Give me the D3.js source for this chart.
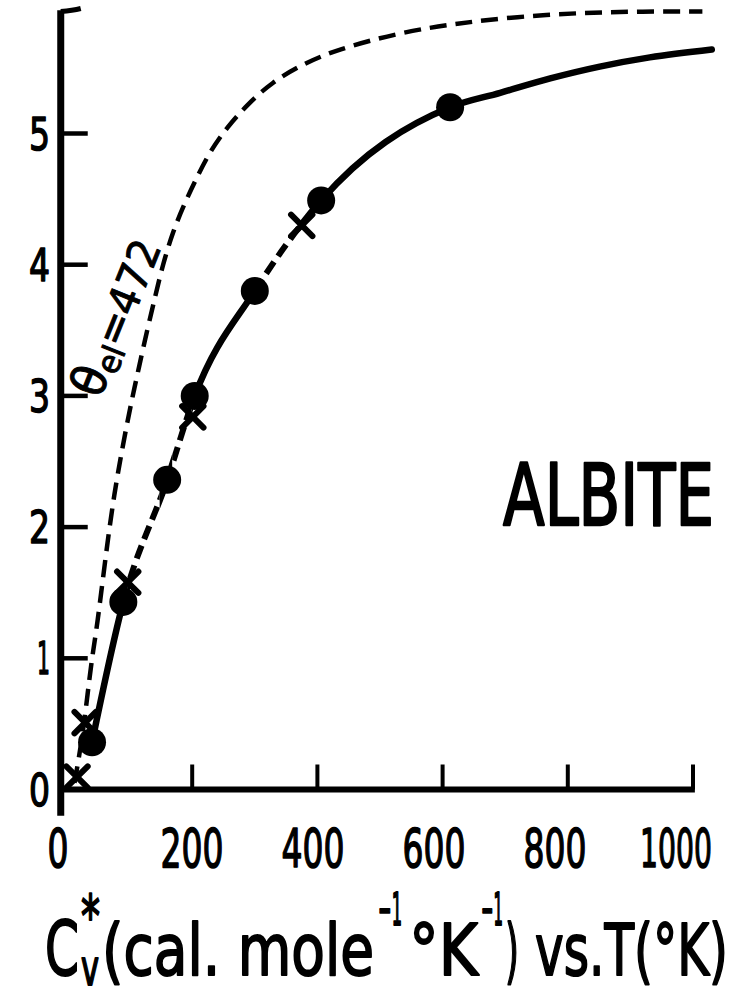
<!DOCTYPE html>
<html><head><meta charset="utf-8">
<script src="https://cdn.jsdelivr.net/npm/d3@7"></script>
<style>
html,body{margin:0;padding:0;background:#fff;}
svg{display:block;}
text{font-family:"DejaVu Sans",sans-serif;fill:#000;stroke:#000;stroke-linejoin:round;}
</style>
</head><body>
<svg id="c" width="746" height="987"></svg>
<script>
// ---- data ----
const circleT  = [40, 90, 160, 204, 300, 406, 612];
const circleCv = [0.36, 1.43, 2.36, 3.00, 3.80, 4.49, 5.20];
const tailT    = [692, 772, 851, 931, 1030];
const tailCv   = [5.31, 5.42, 5.51, 5.58, 5.64];
const crossT   = [16, 29, 97, 201, 375];
const crossCv  = [0.095, 0.51, 1.58, 2.84, 4.30];
const debyeT   = [12, 24, 32, 40, 48, 61, 75, 93, 104, 115, 128, 141, 153, 169, 188, 208, 228, 256, 288, 327, 377, 431, 532, 623, 719, 819, 915, 1015];
const debyeCv  = [0.05, 0.38, 0.69, 1.01, 1.24, 1.75, 2.25, 2.72, 2.98, 3.22, 3.50, 3.76, 4.00, 4.25, 4.47, 4.67, 4.86, 5.05, 5.22, 5.39, 5.53, 5.64, 5.77, 5.84, 5.89, 5.92, 5.93, 5.93];
const dashedRangesT = [[96, 148], [168, 199], [303, 373]];
const xTickValues = [200, 400, 600, 800, 1000];
const xLabelValues = [0, 200, 400, 600, 800, 1000];
const xLabels = ["0", "200", "400", "600", "800", "1000"];
const yTickValues = [1, 2, 3, 4, 5];
const yLabelValues = [0, 1, 2, 3, 4, 5];
const yLabels = ["0", "1", "2", "3", "4", "5"];

// ---- scales ----
const x = d3.scaleLinear().domain([0, 1000]).range([67, 693]);
const y = d3.scaleLinear().domain([0, 6]).range([789.5, 2.3]);
const xLab = d3.scaleLinear().domain([0, 200, 1000]).range([58, 192, 676]);

const svg = d3.select("#c");
const axX = x(-10);

// ---- axes ----
svg.append("line").attr("x1", axX).attr("x2", axX)
  .attr("y1", y(5.94)).attr("y2", y(-0.2))
  .attr("stroke", "#000").attr("stroke-width", 7);
svg.append("line").attr("x1", axX).attr("x2", x(1003))
  .attr("y1", y(0)).attr("y2", y(0))
  .attr("stroke", "#000").attr("stroke-width", 6);
svg.append("path")
  .attr("d", `M${axX},${y(5.93)} Q${axX + 12},${y(5.93) - 1} ${axX + 20},${y(5.93) - 3}`)
  .attr("fill", "none").attr("stroke", "#000").attr("stroke-width", 5);

svg.append("g").selectAll("line").data(yTickValues).join("line")
  .attr("x1", axX).attr("x2", axX + 27)
  .attr("y1", d => y(d)).attr("y2", d => y(d))
  .attr("stroke", "#000").attr("stroke-width", 4.5);
svg.append("g").selectAll("line").data(xTickValues).join("line")
  .attr("x1", d => x(d)).attr("x2", d => x(d))
  .attr("y1", y(0)).attr("y2", y(0) - 25)
  .attr("stroke", "#000").attr("stroke-width", 4);

// tick labels
svg.append("g").selectAll("text").data(yLabelValues).join("text")
  .attr("x", 50).attr("y", d => y(d) + 16)
  .attr("text-anchor", "end")
  .attr("font-size", 45).attr("stroke-width", 1.5)
  .attr("textLength", (d, i) => yLabels[i] === "1" ? 13 : 21)
  .attr("lengthAdjust", "spacingAndGlyphs")
  .text((d, i) => yLabels[i]);

svg.append("g").selectAll("text").data(xLabelValues).join("text")
  .attr("x", d => xLab(d)).attr("y", 867)
  .attr("text-anchor", "middle")
  .attr("font-size", 54).attr("stroke-width", 1.6)
  .attr("textLength", (d, i) => xLabels[i].length * 21 - (xLabels[i][0] === "1" ? 12 : 0))
  .attr("lengthAdjust", "spacingAndGlyphs")
  .text((d, i) => xLabels[i]);

// ---- clip paths for dashed / solid sections of the measured curve ----
const defs = svg.append("defs");
const dashClip = defs.append("clipPath").attr("id", "dashClip");
dashClip.selectAll("rect").data(dashedRangesT).join("rect")
  .attr("x", d => x(d[0])).attr("width", d => x(d[1]) - x(d[0]))
  .attr("y", 0).attr("height", 987);
const solidBounds = [];
let prev = 0;
dashedRangesT.forEach(r => { solidBounds.push([prev, x(r[0])]); prev = x(r[1]); });
solidBounds.push([prev, 746]);
const solidClip = defs.append("clipPath").attr("id", "solidClip");
solidClip.selectAll("rect").data(solidBounds).join("rect")
  .attr("x", d => d[0]).attr("width", d => d[1] - d[0])
  .attr("y", 0).attr("height", 987);

// ---- Debye dashed curve ----
const debyePts = debyeT.map((t, i) => [t, debyeCv[i]]);
const lineGen = d3.line().x(d => x(d[0])).y(d => y(d[1])).curve(d3.curveBasis);
svg.append("path").attr("d", lineGen(debyePts))
  .attr("fill", "none").attr("stroke", "#000").attr("stroke-width", 4.5)
  .attr("stroke-dasharray", "17,9");

// ---- measured curve ----
const curvePts = circleT.map((t, i) => [t, circleCv[i]]).concat(tailT.map((t, i) => [t, tailCv[i]]));
const curveGen = d3.line().x(d => x(d[0])).y(d => y(d[1])).curve(d3.curveMonotoneX);
svg.append("path").attr("d", curveGen(curvePts))
  .attr("clip-path", "url(#solidClip)")
  .attr("fill", "none").attr("stroke", "#000").attr("stroke-width", 6.5)
  .attr("stroke-linecap", "round");
svg.append("path").attr("d", curveGen(curvePts))
  .attr("clip-path", "url(#dashClip)")
  .attr("fill", "none").attr("stroke", "#000").attr("stroke-width", 6)
  .attr("stroke-dasharray", "14,7");

// circles
svg.append("g").selectAll("circle").data(circleT).join("circle")
  .attr("cx", d => x(d)).attr("cy", (d, i) => y(circleCv[i]))
  .attr("r", 14).attr("fill", "#000");

// crosses
const sym = d3.symbol().type(d3.symbolX).size(300);
svg.append("g").selectAll("path").data(crossT).join("path")
  .attr("transform", (d, i) => `translate(${x(d)},${y(crossCv[i])})`)
  .attr("d", sym())
  .attr("fill", "none").attr("stroke", "#000").attr("stroke-width", 6)
  .attr("stroke-linecap", "round");

// ---- labels ----
svg.append("text").attr("x", 503).attr("y", 525)
  .attr("font-size", 85).attr("stroke-width", 2.4)
  .attr("textLength", 211).attr("lengthAdjust", "spacingAndGlyphs")
  .text("ALBITE");

const th = svg.append("text")
  .attr("transform", "translate(100,400) rotate(-68)")
  .attr("font-size", 42).attr("stroke-width", 1)
  .attr("textLength", 165).attr("lengthAdjust", "spacingAndGlyphs");
th.append("tspan").attr("font-size", 48).text("θ");
th.append("tspan").attr("font-size", 32).attr("dy", 6).text("el");
th.append("tspan").attr("dy", -6).text("=472");

// title pieces
const title = [
  {t: "C", x: 45, y: 975, fs: 74, w: 34},
  {t: "*", x: 81, y: 937, fs: 58, w: 19},
  {t: "v", x: 81, y: 985, fs: 50, w: 18},
  {t: "(cal. mole", x: 102, y: 975, fs: 72, w: 272},
  {t: "−1", x: 378, y: 925, fs: 45, w: 24},
  {t: "°K", x: 409, y: 975, fs: 72, w: 69},
  {t: "−1", x: 481, y: 925, fs: 45, w: 22},
  {t: ")", x: 505, y: 975, fs: 72, w: 14},
  {t: "vs.T(°K)", x: 535, y: 975, fs: 72, w: 193}
];
svg.append("g").selectAll("text").data(title).join("text")
  .attr("x", d => d.x).attr("y", d => d.y)
  .attr("font-size", d => d.fs).attr("stroke-width", 2)
  .attr("textLength", d => d.w).attr("lengthAdjust", "spacingAndGlyphs")
  .text(d => d.t);
</script>
</body></html>
